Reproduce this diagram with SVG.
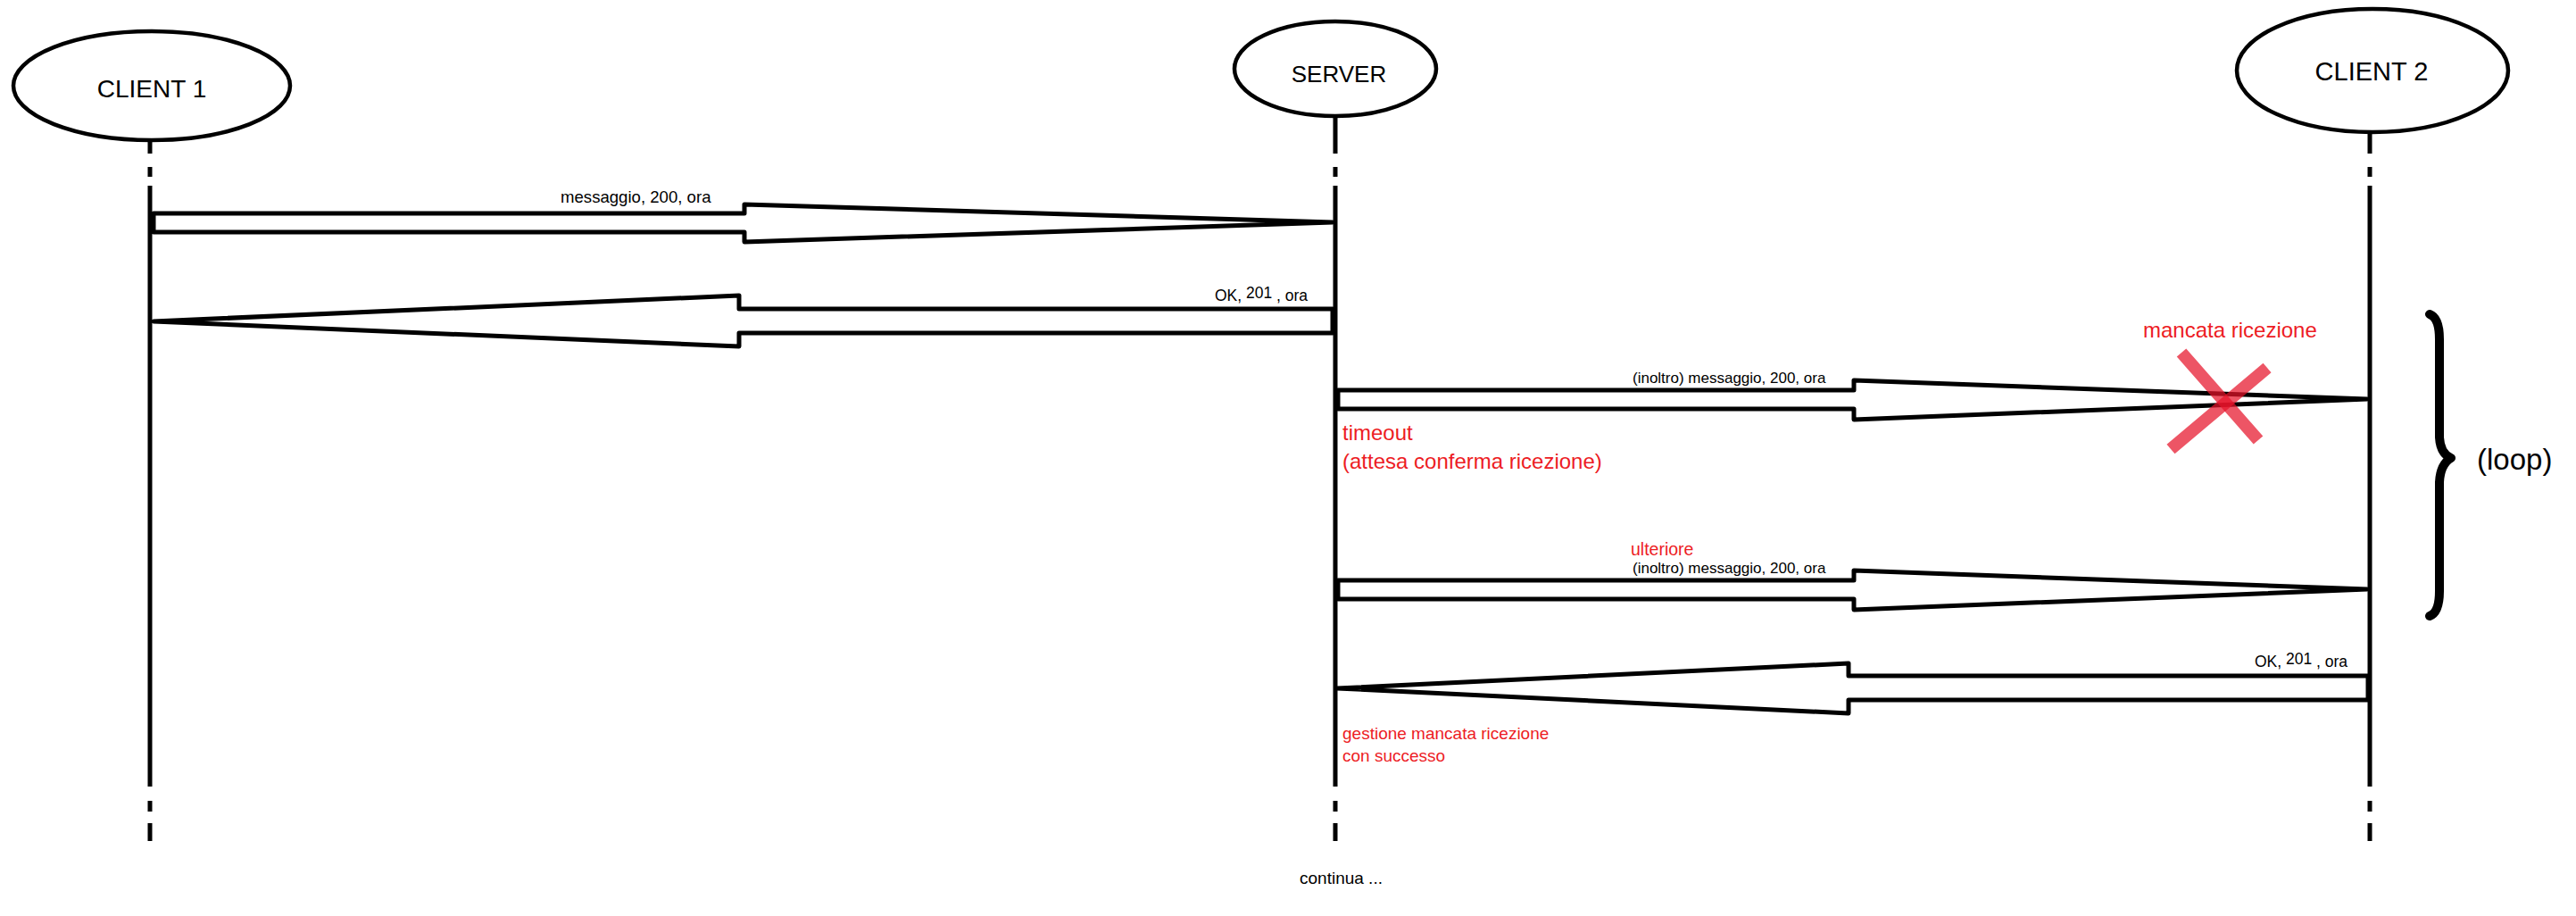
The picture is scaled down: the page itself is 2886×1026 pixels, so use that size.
<svg xmlns="http://www.w3.org/2000/svg" width="2886" height="1026" viewBox="0 0 2886 1026">
<style>
.bg{fill:#ffffff}
.actor{fill:#ffffff;stroke:#000;stroke-width:4.5}
.life{fill:none;stroke:#000;stroke-width:5}
.arrow{fill:#ffffff;stroke:#000;stroke-width:5;stroke-linejoin:round}
.t{font-family:"Liberation Sans",Arial,sans-serif;fill:#000}
.r{font-family:"Liberation Sans",Arial,sans-serif;fill:#ed1c24}
.x{fill:none;stroke:#e6142a;stroke-width:14;opacity:0.72}
.brace{fill:none;stroke:#000;stroke-width:10;stroke-linecap:round;stroke-linejoin:round}
</style>
<rect class="bg" x="0" y="0" width="2886" height="1026"/>

<g id="client1">
  <path class="life" d="M168,157V172M168,187V198M168,208V881M168,897V909M168,922V942"/>
  <ellipse class="actor" cx="170" cy="96" rx="155" ry="61"/>
  <text class="t" x="170" y="109" font-size="28" text-anchor="middle">CLIENT 1</text>
</g>
<g id="server">
  <path class="life" d="M1496,130V172M1496,187V198M1496,208V881M1496,897V909M1496,922V942"/>
  <ellipse class="actor" cx="1496" cy="77" rx="113" ry="53"/>
  <text class="t" x="1500" y="92" font-size="26" text-anchor="middle">SERVER</text>
</g>
<g id="client2">
  <path class="life" d="M2655,148V172M2655,187V198M2655,208V881M2655,897V909M2655,922V942"/>
  <ellipse class="actor" cx="2658" cy="79" rx="152" ry="69"/>
  <text class="t" x="2657" y="90" font-size="29" text-anchor="middle">CLIENT 2</text>
</g>

<g id="connectors">
  <polygon class="arrow" points="172,239 834,239 834,229 1493,249 834,271 834,260 172,260"/>
  <polygon class="arrow" points="1493,346 828,346 828,331 172,360 828,388 828,373 1493,373"/>
  <polygon class="arrow" points="1499,437 2077,437 2077,426 2652,447 2077,470 2077,458 1499,458"/>
  <polygon class="arrow" points="1499,650 2077,650 2077,639 2652,660 2077,683 2077,671 1499,671"/>
  <polygon class="arrow" points="2653,757 2071,757 2071,743 1498,771 2071,799 2071,784 2653,784"/>
</g>

<g id="labels">
  <text class="t" x="628" y="227" font-size="18.6">messaggio, 200, ora</text>
  <text class="t" x="1361" y="337" font-size="17.5">OK, <tspan dy="-3">201</tspan><tspan dy="3"> , ora</tspan></text>
  <text class="t" x="1829" y="429" font-size="17">(inoltro) messaggio, 200, ora</text>
  <text class="r" x="1827" y="622" font-size="19.5">ulteriore</text>
  <text class="t" x="1829" y="642" font-size="17">(inoltro) messaggio, 200, ora</text>
  <text class="t" x="2526" y="747" font-size="17.5">OK, <tspan dy="-3">201</tspan><tspan dy="3"> , ora</tspan></text>
  <text class="r" x="1504" y="493" font-size="24">timeout</text>
  <text class="r" x="1504" y="525" font-size="24">(attesa conferma ricezione)</text>
  <text class="r" x="2401" y="378" font-size="24">mancata ricezione</text>
  <text class="r" x="1504" y="828" font-size="19">gestione mancata ricezione</text>
  <text class="r" x="1504" y="853" font-size="19">con successo</text>
  <text class="t" x="2775" y="526" font-size="33">(loop)</text>
  <text class="t" x="1456" y="990" font-size="19">continua ...</text>
</g>

<g id="lost-mark">
  <line class="x" x1="2444" y1="395" x2="2530" y2="493"/>
  <line class="x" x1="2540" y1="412" x2="2432" y2="503"/>
</g>

<g id="loop-brace">
  <path class="brace" d="M2722,352 Q2733,356 2733,380 L2733,490 Q2734,508 2746,513 Q2734,520 2733,540 L2733,662 Q2733,686 2722,690"/>
</g>
</svg>
